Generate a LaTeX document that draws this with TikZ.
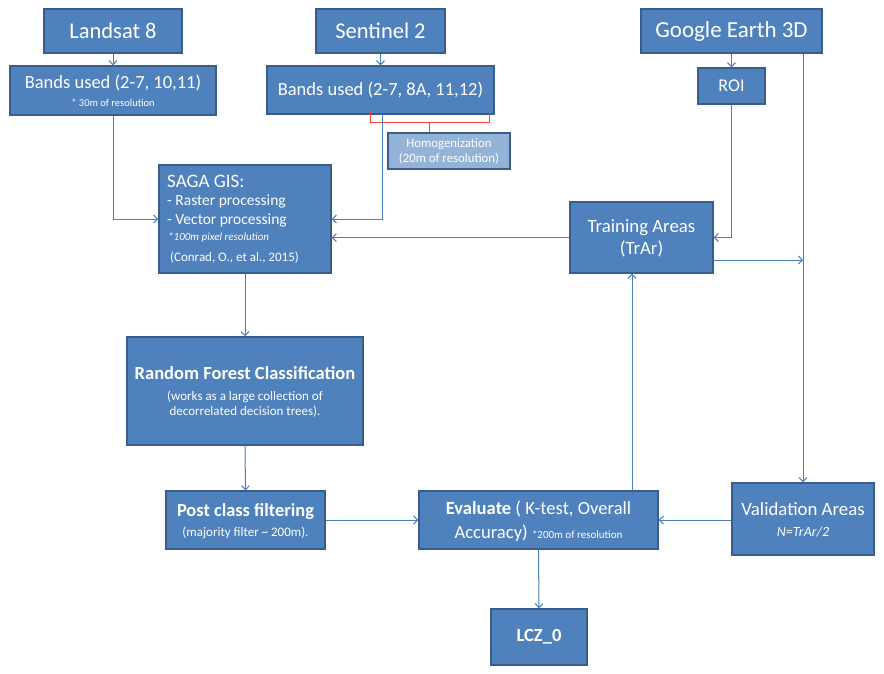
\documentclass[tikz,border=0pt]{standalone}
\usepackage{fontspec}
\setmainfont{Carlito}
\usetikzlibrary{arrows.meta}
\definecolor{boxfill}{HTML}{4F81BD}
\definecolor{boxdraw}{HTML}{385D8A}
\definecolor{lightfill}{HTML}{95B3D7}
\definecolor{linec}{HTML}{4A7EBB}
\definecolor{redc}{HTML}{FF3B3B}
\tikzset{
  box/.style={draw=boxdraw, line width=1.4pt, fill=boxfill, text=white, inner sep=2pt, align=center},
  lbox/.style={draw=boxdraw, line width=1.2pt, fill=lightfill, text=white, inner sep=2pt, align=center},
  low/.style={text depth=0pt},
  txt/.style={text=white, inner sep=0pt, anchor=west},
  arr/.style={draw=linec, line width=1pt, -{Straight Barb[length=4pt,width=8pt]}},
}
\newcommand{\fs}[2]{\fontsize{#1}{#2}\selectfont}
\begin{document}
\begin{tikzpicture}[x=1pt,y=-1pt]
\useasboundingbox (0,0) rectangle (884,673);

% top row
\node[box, minimum width=138, minimum height=44, font=\fs{22.5}{27}] (landsat) at (113,31) {Landsat 8};
\node[box, minimum width=129, minimum height=44, font=\fs{22.5}{27}] (sentinel) at (380.5,31) {Sentinel 2};
\node[box, minimum width=181, minimum height=44, font=\fs{23}{27}] (ge) at (731.5,31) {Google Earth 3D};

% bands
\node[box, minimum width=206, minimum height=49, font=\fs{10.5}{18}] (bandsL) at (113,90.5)
  {{\fs{18.5}{18}Bands used (2-7, 10,11)}\\* 30m of resolution};
\node[box, minimum width=227, minimum height=48, font=\fs{18.5}{22}] (bandsS) at (380.5,90) {Bands used (2-7, 8A, 11,12)};
\node[box, minimum width=67, minimum height=36, font=\fs{18}{22}] (roi) at (731.5,86) {ROI};

% homogenization
\node[lbox, minimum width=122, minimum height=36, font=\fs{12.8}{15}] (homog) at (449,151)
  {Homogenization\\(20m of resolution)};
\draw[redc, line width=1pt] (370,111) -- (370,122) -- (489,122) -- (489,111);
\draw[redc, line width=1pt] (429,122) -- (homog.north -| 429,0);

% SAGA
\node[box, minimum width=172, minimum height=108] (saga) at (245,219) {};
\node[txt, font=\fs{19}{22}] (saga1) at (167,181) {SAGA GIS:};
\node[txt, font=\fs{15.5}{18}] (saga2) at (167,201) {- Raster processing};
\node[txt, font=\fs{15.5}{18}] (saga3) at (167,220) {- Vector processing};
\node[txt, font=\fs{11}{13}\itshape] (saga4) at (168,237) {*100m pixel resolution};
\node[txt, font=\fs{13}{15}] (saga5) at (170,258) {(Conrad, O., et al., 2015)};

% training
\node[box, low, minimum width=143, minimum height=71, font=\fs{18.8}{22}] (train) at (641.5,237.5) {Training Areas\\(TrAr)};

% random forest
\node[box, low, minimum width=236, minimum height=108, font=\fs{13}{15.5}] (rf) at (245,391)
  {{\fs{18.5}{15}\bfseries Random Forest Classification}\\[5pt](works as a large collection of\\decorrelated decision trees).};

% bottom row
\node[box, low, minimum width=159, minimum height=58, font=\fs{13}{20}] (post) at (245.5,520)
  {{\fs{18.4}{20}\bfseries Post class filtering}\\(majority filter \textasciitilde{} 200m).};
\node[box, low, minimum width=239, minimum height=58, font=\fs{18.6}{24}] (eval) at (538.5,520)
  {\textbf{Evaluate} ( K-test, Overall\\Accuracy) {\fs{11}{13}*200m of resolution}};
\node[box, low, minimum width=142, minimum height=72, font=\fs{14}{21}] (valid) at (803,519)
  {{\fs{18.8}{21}Validation Areas}\\\textit{N=TrAr/2}};
\node[box, minimum width=96, minimum height=56, font=\fs{18.5}{22}\bfseries] (lcz) at (539,637) {LCZ\_0};

% connectors
\draw[arr] (landsat) -- (bandsL);
\draw[arr] (sentinel) -- (bandsS);
\draw[arr] (ge.south -| roi.north) -- (roi);
\draw[arr] (bandsL.south) |- (saga.west);
\coordinate (sb) at (382,114);
\draw[arr] (sb) |- (saga.east);
\draw[arr] (train.west) -- (train.west -| saga.east);
\draw[arr] (roi.south) |- (train.east);
\draw[arr] (valid.north |- ge.south) -- (valid.north);
\coordinate (tr1) at (713,260);
\draw[arr] (tr1) -- (tr1 -| valid.north);
\draw[arr] (saga.south) -- (rf.north);
\draw[arr] (rf.south) -- (post.north);
\draw[arr] (post.east) -- (post.east -| eval.west);
\draw[arr] (valid.west |- eval.east) -- (eval.east);
\coordinate (ev) at (632,491);
\draw[arr] (ev) -- (ev |- train.south);
\draw[arr] (eval.south) -- (lcz.north);
\end{tikzpicture}
\end{document}
